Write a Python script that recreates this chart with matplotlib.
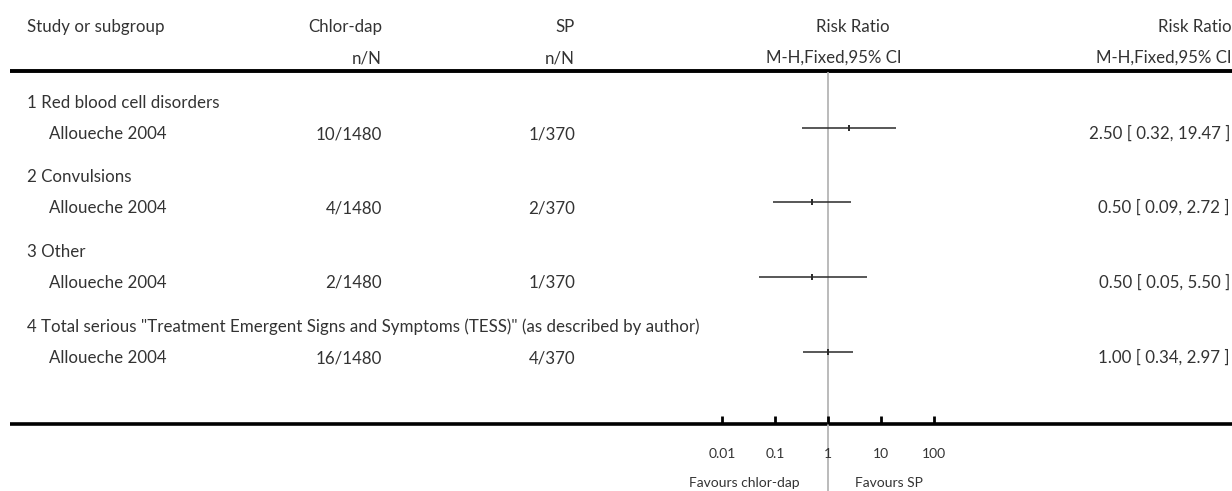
import numpy as np
import matplotlib
matplotlib.use('Agg')
import matplotlib.pyplot as plt

# forest plot data: serious adverse events, chlor-dap vs SP
subgroups = ['1 Red blood cell disorders', '2 Convulsions', '3 Other',
             '4 Total serious "Treatment Emergent Signs and Symptoms (TESS)" (as described by author)']
studies = ['Alloueche 2004', 'Alloueche 2004', 'Alloueche 2004', 'Alloueche 2004']
chlor_events = [10, 4, 2, 16]
chlor_total = [1480, 1480, 1480, 1480]
sp_events = [1, 2, 1, 4]
sp_total = [370, 370, 370, 370]
rr = [2.50, 0.50, 0.50, 1.00]
ci_low = [0.32, 0.09, 0.05, 0.34]
ci_high = [19.47, 2.72, 5.50, 2.97]
scale_ticks = [0.01, 0.1, 1, 10, 100]
scale_labels = ['0.01', '0.1', '1', '10', '100']

W, H = 1232, 491
plt.rcParams['font.family'] = ['Lato', 'DejaVu Sans']
txt = '#333333'
fs = 12.2

fig = plt.figure(figsize=(W / 100, H / 100), dpi=100)
ax = fig.add_axes([0, 0, 1, 1])
ax.set_xlim(0, W)
ax.set_ylim(H, 0)
ax.axis('off')


def put(x, y, s, ha='left', size=fs):
    ax.text(x, y, s, fontsize=size, color=txt, va='baseline', ha=ha)


# header
put(27, 32, 'Study or subgroup')
put(382, 32, 'Chlor-dap', 'right')
put(382, 63, 'n/N', 'right')
put(575, 32, 'SP', 'right')
put(575, 63, 'n/N', 'right')
put(853, 32, 'Risk Ratio', 'center')
put(834, 63, 'M-H,Fixed,95% CI', 'center')
put(1232, 32, 'Risk Ratio', 'right')
put(1231, 63, 'M-H,Fixed,95% CI', 'right')
ax.plot([10, W], [71, 71], color='black', lw=2.8, solid_capstyle='butt')

# rows (text baselines)
row_y = [139, 213, 288, 363]
for i in range(len(subgroups)):
    y = row_y[i]
    put(27, y - 31, subgroups[i])
    put(49, y, studies[i])
    put(382, y, '%d/%d' % (chlor_events[i], chlor_total[i]), 'right')
    put(575, y, '%d/%d' % (sp_events[i], sp_total[i]), 'right')
    put(1230, y, '%.2f [ %.2f, %.2f ]' % (rr[i], ci_low[i], ci_high[i]), 'right')

# bottom axis line
ax.plot([10, W], [424, 424], color='black', lw=2.6, solid_capstyle='butt')
put(800, 487, 'Favours chlor-dap', 'right', 10)
put(855, 487, 'Favours SP', 'left', 10)

# forest panel on log scale
x0, x1 = 661, 995
top, bot = 73, 424
fax = fig.add_axes([x0 / W, (H - bot) / H, (x1 - x0) / W, (bot - top) / H])
fax.patch.set_alpha(0)
fax.set_xscale('log')
half = (x1 - x0) / 2 / 53.0
fax.set_xlim(10 ** -half, 10 ** half)
fax.set_ylim(bot, top)
for s in fax.spines.values():
    s.set_visible(False)
fax.axvline(1, ymin=-(H - bot) / (bot - top), ymax=1, color='#b5b5b5', lw=1.3, clip_on=False, zorder=1)
ci_y = [y - 11 for y in row_y]
fax.hlines(ci_y, ci_low, ci_high, color='#2a2a2a', lw=1.1, zorder=2)
fax.plot(rr, ci_y, ls='none', marker='|', ms=5, mew=1.4, color='#2a2a2a', zorder=3)
fax.set_yticks([])
fax.set_xticks(scale_ticks)
fax.set_xticklabels(scale_labels)
fax.minorticks_off()
fax.tick_params(axis='x', direction='in', length=6, width=2, color='black',
                labelsize=10, labelcolor=txt, pad=17)

fig.savefig('out.png', dpi=100)
